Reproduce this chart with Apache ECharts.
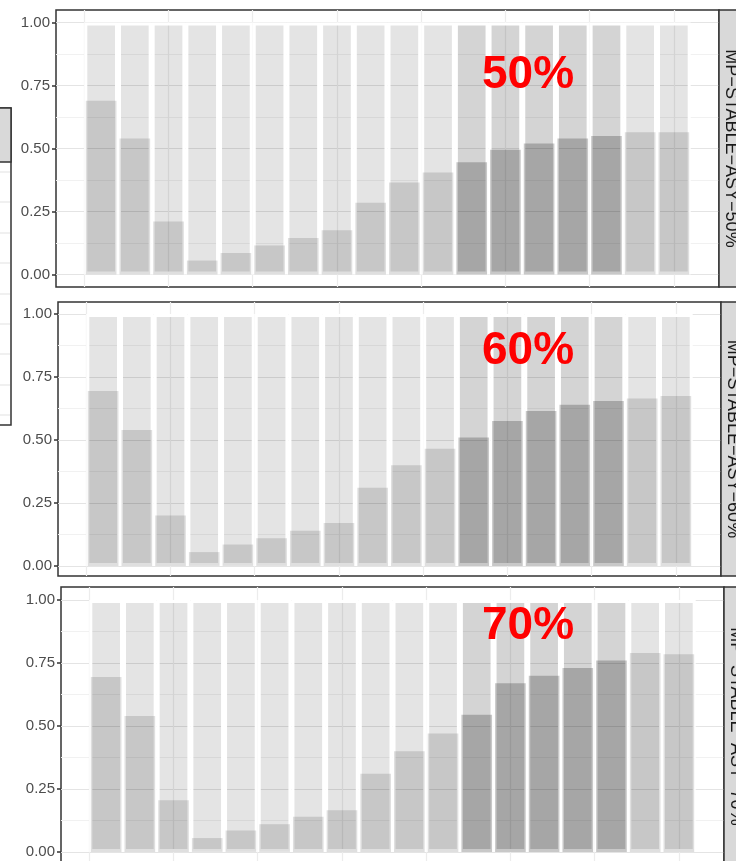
<!DOCTYPE html>
<html>
<head>
<meta charset="utf-8">
<script src="https://cdn.jsdelivr.net/npm/echarts@6/dist/echarts.min.js"></script>
<style>
  html, body { margin: 0; padding: 0; background: #ffffff; }
  #chart { width: 736px; height: 861px; }
</style>
</head>
<body>
<div id="chart"></div>
<script>
// ---- data ----
const positions = [1, 2, 3, 4, 5, 6, 7, 8, 9, 10, 11, 12, 13, 14, 15, 16, 17, 18];
const groups = ['base', 'base', 'base', 'base', 'base', 'base', 'base', 'base', 'base', 'base', 'base',
                'peak', 'peak', 'peak', 'peak', 'peak', 'base', 'base'];
const fullShare = [1, 1, 1, 1, 1, 1, 1, 1, 1, 1, 1, 1, 1, 1, 1, 1, 1, 1];
const share50 = [0.69, 0.54, 0.21, 0.055, 0.085, 0.115, 0.145, 0.175, 0.285, 0.365, 0.405, 0.445, 0.495, 0.52, 0.54, 0.55, 0.565, 0.565];
const share60 = [0.695, 0.54, 0.20, 0.055, 0.085, 0.11, 0.14, 0.17, 0.31, 0.40, 0.465, 0.51, 0.575, 0.615, 0.64, 0.655, 0.665, 0.675];
const share70 = [0.695, 0.54, 0.205, 0.055, 0.085, 0.11, 0.14, 0.165, 0.31, 0.40, 0.47, 0.545, 0.67, 0.70, 0.73, 0.76, 0.79, 0.785];
const stripLabels = ['MP\u2212STABLE\u2212ASY\u221250%', 'MP\u2212STABLE\u2212ASY\u221260%', 'MP\u2212STABLE\u2212ASY\u221270%'];
const panelTags = ['50%', '60%', '70%'];
const yTicks = [0, 0.25, 0.5, 0.75, 1];
const yGridLines = [0, 0.125, 0.25, 0.375, 0.5, 0.625, 0.75, 0.875, 1];
const xGridLines = [0.5, 3, 5.5, 8, 10.5, 13, 15.5, 18];
const panelSeries = [share50, share60, share70];

// ---- layout & style ----
const panels = [
  { left: 56, right: 719, top: 10,  bottom: 287, yMin: -0.05,  yMax: 1.05,  tagY: 75 },
  { left: 58, right: 721, top: 302, bottom: 576, yMin: -0.040, yMax: 1.048, tagY: 351 },
  { left: 61, right: 724, top: 587, bottom: 866, yMin: -0.056, yMax: 1.052, tagY: 626 }
];
const xMin = -0.34, xMax = 19.34;
const backColor = { base: 'rgba(0,0,0,0.105)', peak: 'rgba(0,0,0,0.17)' };
const frontColor = { base: 'rgba(0,0,0,0.125)', peak: 'rgba(0,0,0,0.215)' };
const frame = '#333333';
const axisFont = "'Liberation Sans Narrow', 'Liberation Sans', Arial, sans-serif";

const grid = [], xAxis = [], yAxis = [], series = [], graphic = [];

panels.forEach((p, i) => {
  grid.push({
    left: p.left, top: p.top, width: p.right - p.left, height: p.bottom - p.top,
    show: true, borderColor: frame, borderWidth: 1.5, backgroundColor: '#ffffff',
    outerBoundsMode: 'none'
  });
  // x axis carrying the vertical grid lines and the background bars
  xAxis.push({
    type: 'value', gridIndex: i, min: xMin, max: xMax,
    axisLine: { show: false, onZero: false }, axisLabel: { show: false, customValues: xGridLines },
    axisTick: { show: false, customValues: xGridLines },
    splitLine: { show: true, lineStyle: { color: '#ececec', width: 1.2 } }
  });
  // twin x axis for the value bars
  xAxis.push({ type: 'value', gridIndex: i, min: xMin, max: xMax, show: false, axisLine: { onZero: false } });
  // labelled y axis
  yAxis.push({
    type: 'value', gridIndex: i, min: p.yMin, max: p.yMax, position: 'left',
    axisLine: { show: false, onZero: false },
    axisTick: { show: true, length: 4, customValues: yTicks, lineStyle: { color: frame, width: 1.5 } },
    axisLabel: {
      show: true, customValues: yTicks, margin: 6,
      formatter: v => v.toFixed(2), color: '#4d4d4d', fontSize: 15, fontFamily: axisFont
    },
    splitLine: { show: false }
  });
  // y axis carrying the major/minor horizontal grid lines
  yAxis.push({
    type: 'value', gridIndex: i, min: p.yMin, max: p.yMax, position: 'left',
    axisLine: { show: false, onZero: false }, axisLabel: { show: false, customValues: yGridLines },
    axisTick: { show: false, customValues: yGridLines },
    splitLine: { show: true, lineStyle: { color: ['#e4e4e4', '#f1f1f1'], width: 1.2 } }
  });

  series.push({
    type: 'bar', xAxisIndex: 2 * i, yAxisIndex: 2 * i,
    barWidth: '100%',
    data: positions.map((x, k) => [x, fullShare[k]]),
    itemStyle: { color: d => backColor[groups[d.dataIndex]], borderColor: '#ffffff', borderWidth: 3 },
    silent: true, z: 2
  });
  series.push({
    type: 'bar', xAxisIndex: 2 * i + 1, yAxisIndex: 2 * i,
    barWidth: '91%',
    data: positions.map((x, k) => [x, panelSeries[i][k]]),
    itemStyle: { color: d => frontColor[groups[d.dataIndex]] },
    silent: true, z: 3
  });

  // facet strip on the right
  const h = p.bottom - p.top;
  graphic.push({
    type: 'rect', shape: { x: p.right, y: p.top, width: 26, height: h },
    style: { fill: '#d9d9d9', stroke: frame, lineWidth: 1.5 }, z: 10
  });
  graphic.push({
    type: 'text', x: p.right + 12, y: p.top + h / 2, rotation: -Math.PI / 2,
    style: {
      text: stripLabels[i], fill: '#1a1a1a', font: "18px 'Liberation Sans', Arial, sans-serif",
      align: 'center', verticalAlign: 'middle'
    }, z: 11
  });
  // red panel tag
  graphic.push({
    type: 'text', x: 528, y: p.tagY,
    style: {
      text: panelTags[i], fill: '#ff0000', font: "bold 46px 'Liberation Sans', Arial, sans-serif",
      align: 'center', verticalAlign: 'middle'
    }, z: 12
  });
});

// edge of the neighbouring legend box on the left
const legendLines = [172, 202, 233, 263, 294, 324, 354, 385, 415];
graphic.push({
  type: 'rect', shape: { x: -6, y: 108, width: 17, height: 317 },
  style: { fill: '#ffffff', stroke: frame, lineWidth: 1.5 }, z: 10
});
graphic.push({
  type: 'rect', shape: { x: -6, y: 108, width: 17, height: 54 },
  style: { fill: '#d9d9d9', stroke: frame, lineWidth: 1.5 }, z: 11
});
legendLines.forEach(y => {
  graphic.push({
    type: 'line', shape: { x1: 0, y1: y, x2: 10, y2: y },
    style: { stroke: '#e6e6e6', lineWidth: 1.2 }, z: 11
  });
});

const chart = echarts.init(document.getElementById('chart'), null, { renderer: 'canvas' });
chart.setOption({
  animation: false,
  backgroundColor: '#ffffff',
  grid, xAxis, yAxis, series, graphic
});
</script>
</body>
</html>
